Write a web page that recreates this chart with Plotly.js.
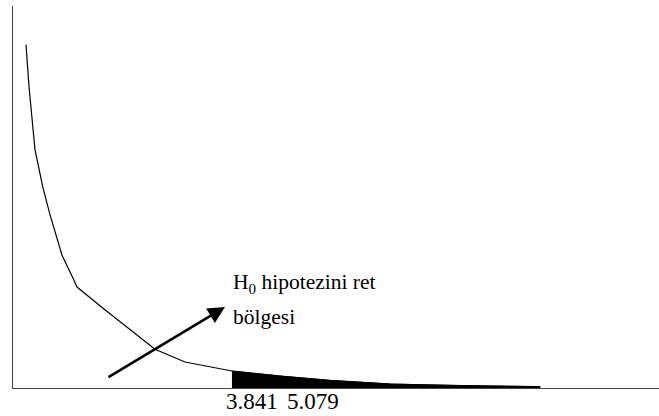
<!DOCTYPE html>
<html>
<head>
<meta charset="utf-8">
<script src="https://cdn.plot.ly/plotly-3.0.1.min.js"></script>
<style>html,body{margin:0;padding:0;background:#fff;}#chart{width:659px;height:416px;}</style>
</head>
<body>
<div id="chart"></div>
<script>
// Chi-square density curve
const curveX = [0.228, 0.281, 0.386, 0.526, 0.649, 0.860, 1.070, 1.123, 1.579, 2.491, 3.018, 3.841, 4.684, 5.561, 6.614, 7.316, 8.190, 9.250];
const curveY = [0.602, 0.528, 0.418, 0.351, 0.304, 0.233, 0.189, 0.177, 0.140, 0.068, 0.0456, 0.0298, 0.021, 0.0132, 0.007, 0.0053, 0.0035, 0.0023];
const criticalValue = 3.841;
const tickLabels = ["3.841", "5.079"];
const tickLabelPos = [4.20, 5.26];
const regionLabel = ["H<sub>0</sub> hipotezini ret", "bölgesi"];

const fillX = [], fillY = [];
curveX.forEach((x, i) => { if (x >= criticalValue) { fillX.push(x); fillY.push(curveY[i]); } });

const traces = [
  {x: fillX, y: fillY, type: 'scatter', mode: 'lines', fill: 'tozeroy', fillcolor: '#000', line: {color: '#000', width: 1}, hoverinfo: 'skip'},
  {x: curveX, y: curveY, type: 'scatter', mode: 'lines', line: {color: '#000', width: 1.2}, hoverinfo: 'skip'}
];

const fam = 'Liberation Serif';
const annotations = [
  {x: 3.719, y: 0.142, ax: 1.649, ay: 0.0175, xref: 'x', yref: 'y', axref: 'x', ayref: 'y', text: '', showarrow: true, arrowhead: 2, arrowsize: 1.3, arrowwidth: 2.6, arrowcolor: '#000'},
  {x: 3.84, y: 0.184, xref: 'x', yref: 'y', xanchor: 'left', yanchor: 'middle', text: regionLabel[0], showarrow: false, font: {family: fam, size: 21.5, color: '#000'}, borderpad: 0},
  {x: 3.84, y: 0.125, xref: 'x', yref: 'y', xanchor: 'left', yanchor: 'middle', text: regionLabel[1], showarrow: false, font: {family: fam, size: 21.5, color: '#000'}, borderpad: 0}
];
tickLabels.forEach((t, i) => annotations.push({x: tickLabelPos[i], y: 0, xref: 'x', yref: 'paper', yanchor: 'top', yshift: 0, text: t, showarrow: false, font: {family: fam, size: 23, color: '#000'}, borderpad: 0}));

const layout = {
  width: 659, height: 416,
  margin: {l: 13, r: 0, t: 6, b: 28, pad: 0},
  paper_bgcolor: '#fff', plot_bgcolor: '#fff',
  showlegend: false,
  font: {family: fam},
  xaxis: {range: [0, 11.333], showgrid: false, zeroline: false, showticklabels: false, ticks: '', showline: true, linecolor: '#444', linewidth: 1, fixedrange: true},
  yaxis: {range: [0, 0.670], showgrid: false, zeroline: false, showticklabels: false, ticks: '', showline: true, linecolor: '#444', linewidth: 1, fixedrange: true},
  annotations: annotations
};
Plotly.newPlot('chart', traces, layout, {staticPlot: true, displayModeBar: false});
</script>
</body>
</html>
